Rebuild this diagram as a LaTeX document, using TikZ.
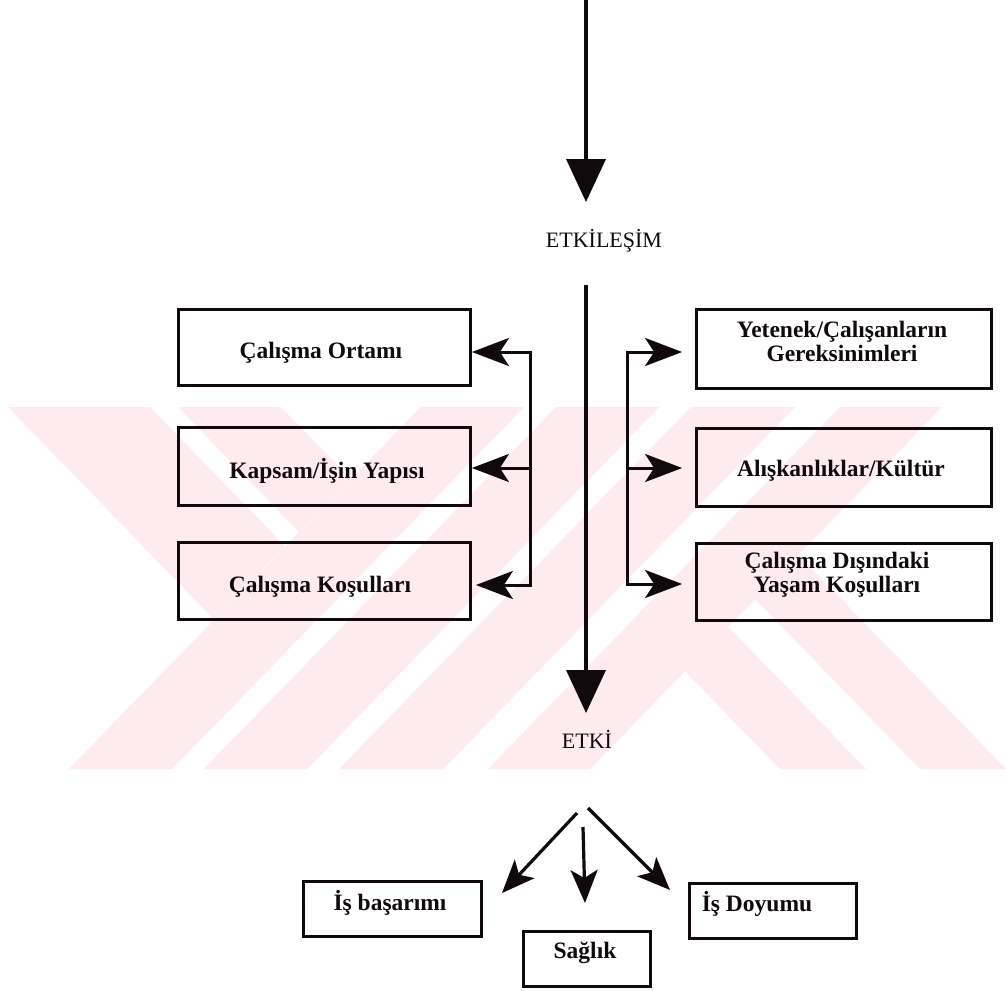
\documentclass[tikz,border=0pt]{standalone}
\usepackage{fontspec}
\setmainfont{Liberation Serif}
\usetikzlibrary{arrows.meta}
\definecolor{ink}{RGB}{16,10,12}
\definecolor{wmpink}{RGB}{253,235,239}
\begin{document}
\begin{tikzpicture}[x=1pt,y=-1pt,
  frame/.style={draw=ink, line width=2.8pt, inner sep=0pt},
  lbl/.style={font=\bfseries\fontsize{23.5}{24}\selectfont, align=center, inner sep=0pt, text=ink},
  stage/.style={font=\fontsize{22}{24}\selectfont, inner sep=0pt, text=ink},
  flow/.style={draw=ink, line width=3.8pt, -{Triangle[width=39pt,length=43pt]}},
  branch/.style={draw=ink, line width=3pt, line join=miter},
  branchtip/.style={branch, -{Stealth[length=37pt,width=28pt,inset=9pt]}},
  outcome/.style={draw=ink, line width=3.2pt, -{Stealth[length=33pt,width=27pt,inset=8pt]}},
  wm/.style={fill=wmpink, draw=none}
]
\useasboundingbox (0,0) rectangle (1006,990);
\fill[white] (0,0) rectangle (1006,990);

% background emblem: slanted bands
\begin{scope}
  \clip (0,407) rectangle (1006,769);
  \foreach \b/\w in {69/103,204/103,339/104,488/102}
    \fill[wm] (\b,769) -- (\b+\w,769) -- (\b+\w+352,407) -- (\b+352,407) -- cycle;
  \fill[wm] (8,407) -- (150,407) -- (285,546.2) -- (214,619.4) -- cycle;
  \fill[wm] (178,407) -- (281,407) -- (350.5,478.7) -- (299,531.8) -- cycle;
  \fill[wm] (780,769) -- (866,769) -- (728,626.7) -- (685,671) -- cycle;
  \fill[wm] (920,769) -- (1006,769) -- (798,554.6) -- (755,598.9) -- cycle;
\end{scope}

% stage labels and main axis
\coordinate (feed) at (586,0);
\coordinate (feedtip) at (586,202);
\node[stage] (etk) at (604,241) {ETKİLEŞİM};
\coordinate (axistop) at (586,285);
\coordinate (axistip) at (586,713);
\node[stage] (etki) at (587,739) {ETKİ};
\draw[flow] (feed) -- (feedtip);
\draw[flow] (axistop) -- (axistip);

% left column
\node[frame, minimum width=292pt, minimum height=76pt] (lb1) at (324.5,347.5) {};
\node[frame, minimum width=292pt, minimum height=78pt] (lb2) at (324.5,466.5) {};
\node[frame, minimum width=292pt, minimum height=77pt] (lb3) at (324.5,581) {};
\node[lbl] (lb1t) at (321,353) {Çalışma Ortamı};
\node[lbl] (lb2t) at (327,471) {Kapsam/İşin Yapısı};
\node[lbl] (lb3t) at (320,587) {Çalışma Koşulları};

% right column
\node[frame, minimum width=295pt, minimum height=79pt] (rb1) at (844,349) {};
\node[frame, minimum width=295pt, minimum height=78pt] (rb2) at (844,467.5) {};
\node[frame, minimum width=295pt, minimum height=77pt] (rb3) at (844,582) {};
\node[lbl] (rb1t) at (842,341) {Yetenek/Çalışanların\\Gereksinimleri};
\node[lbl] (rb2t) at (841,471) {Alışkanlıklar/Kültür};
\node[lbl] (rb3t) at (837,575) {Çalışma Dışındaki\\Yaşam Koşulları};

% left branch
\coordinate (ltop) at (530,352);
\coordinate (lmid) at (530,468);
\coordinate (lbot) at (530,585);
\draw[branchtip] (lmid) -- (ltop) -- (ltop -| lb1.east);
\draw[branchtip] (lmid) -- (lmid -| lb2.east);
\draw[branchtip, shorten >=4pt] (lmid) -- (lbot) -- (lbot -| lb3.east);

% right branch
\coordinate (rtop) at (627,352);
\coordinate (rmid) at (627,468);
\coordinate (rbot) at (627,584);
\draw[branchtip, shorten >=13pt] (rmid) -- (rtop) -- (rtop -| rb1.west);
\draw[branchtip, shorten >=13pt] (rmid) -- (rmid -| rb2.west);
\draw[branchtip, shorten >=13pt] (rmid) -- (rbot) -- (rbot -| rb3.west);

% outcomes
\node[frame, minimum width=178pt, minimum height=55pt] (bb1) at (392.5,909) {};
\node[frame, minimum width=127pt, minimum height=55pt] (bb2) at (587,959) {};
\node[frame, minimum width=167pt, minimum height=55pt] (bb3) at (773,911) {};
\node[lbl] (bb1t) at (390,903) {İş başarımı};
\node[lbl] (bb2t) at (585,953) {Sağlık};
\node[lbl] (bb3t) at (757,904) {İş Doyumu};

\coordinate (fanl) at (577,813);
\coordinate (fanm) at (583,827);
\coordinate (fanr) at (588,808);
\coordinate (tipl) at (502,893);
\coordinate (tipm) at (585,903);
\coordinate (tipr) at (670,890);
\draw[outcome] (fanl) -- (tipl);
\draw[outcome] (fanm) -- (tipm);
\draw[outcome] (fanr) -- (tipr);
\end{tikzpicture}
\end{document}
